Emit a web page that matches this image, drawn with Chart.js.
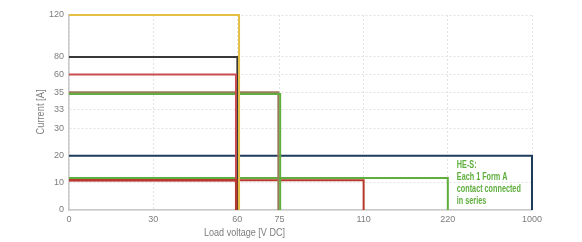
<!DOCTYPE html>
<html>
<head>
<meta charset="utf-8">
<script src="https://cdn.jsdelivr.net/npm/chart.js@4/dist/chart.umd.min.js"></script>
<style>
  html, body { margin: 0; padding: 0; background: #ffffff; }
  #wrap { width: 582px; height: 242px; }
</style>
</head>
<body>
<div id="wrap"><canvas id="c" width="582" height="242"></canvas></div>
<script>
// ---- Tick labels (axes are non-uniform: each tick sits on its own slot) ----
const xTickValues = [0, 30, 60, 75, 110, 220, 1000];
const xTickSlots  = [0, 1, 2, 2.5, 3.5, 4.5, 5.5];
const yTickValues = [0, 10, 20, 30, 33, 35, 60, 80, 120];
const yTickSlots  = [0, 1, 2, 3, 3.7, 4.35, 5, 5.65, 7.2];

// ---- Series: each is a rectangle (current rating up to a load voltage) ----
const seriesNames     = ['yellow', 'black', 'lightRed', 'brown', 'green35', 'navy', 'green12', 'darkRed110', 'darkRed60'];
const currentRatings  = [120, 80, 60, 35, 34.8, 20, 11.8, 11, 11];
const voltageLimits   = [60.6, 60, 59.5, 74.6, 75.3, 1000, 220, 110, 59.6];

// styles
const seriesColors = ['#e6bf45', '#383838', '#c94c50', '#9c7b5d', '#5fae3e', '#1d3b5b', '#5fae3e', '#b5392b', '#b83a2e'];
const seriesOrder  = [1, 3, 2, 5, 4, 9, 8, 7, 0];

const annotationLines = ['HE-S:', 'Each 1 Form A', 'contact connected', 'in series'];
const xTitle = 'Load voltage [V DC]';
const yTitle = 'Current [A]';

function toSlot(v, vals, slots) {
  for (let i = 0; i < vals.length - 1; i++) {
    if (v <= vals[i + 1]) {
      const t = (v - vals[i]) / (vals[i + 1] - vals[i]);
      return slots[i] + t * (slots[i + 1] - slots[i]);
    }
  }
  const n = vals.length - 1;
  return slots[n] + (v - vals[n]) / (vals[n] - vals[n - 1]) * (slots[n] - slots[n - 1]);
}
const xs = v => toSlot(v, xTickValues, xTickSlots);
const ys = v => toSlot(v, yTickValues, yTickSlots);

const datasets = seriesNames.map((name, i) => ({
  label: name,
  data: [
    { x: xs(0), y: ys(currentRatings[i]) },
    { x: xs(voltageLimits[i]), y: ys(currentRatings[i]) },
    { x: xs(voltageLimits[i]), y: ys(0) }
  ],
  borderColor: seriesColors[i],
  borderWidth: name === 'darkRed60' ? 2.5 : 2,
  pointRadius: 0,
  fill: false,
  tension: 0,
  clip: false,
  order: seriesOrder[i],
  borderJoinStyle: 'miter',
  borderCapStyle: 'butt'
}));

const TEXT_GRAY = '#7d7d7d';
const FONT = '"Liberation Sans Narrow", "Liberation Sans", Arial, sans-serif';

// draw text squeezed horizontally to a target width (condensed look)
function squeezed(ctx, text, x, y, targetW) {
  const w = ctx.measureText(text).width;
  const k = Math.min(1, targetW / w);
  ctx.save();
  ctx.translate(x, y);
  ctx.scale(k, 1);
  ctx.fillText(text, 0, 0);
  ctx.restore();
}

const extraText = {
  id: 'extraText',
  afterDraw(chart) {
    const { ctx, scales } = chart;
    ctx.save();
    ctx.fillStyle = TEXT_GRAY;
    ctx.font = '11px ' + FONT;
    ctx.textAlign = 'center';
    ctx.textBaseline = 'middle';
    squeezed(ctx, xTitle, 244.5, 233, 81);
    ctx.save();
    ctx.translate(41, 112);
    ctx.rotate(-Math.PI / 2);
    squeezed(ctx, yTitle, 0, 0, 45);
    ctx.restore();

    // annotation
    const x0 = scales.x.getPixelForValue(xs(220)) + 9;
    ctx.fillStyle = '#5fae3e';
    ctx.font = 'bold 11.5px ' + FONT;
    ctx.textAlign = 'left';
    const k = 64 / ctx.measureText('contact connected').width;
    annotationLines.forEach((line, i) => {
      ctx.save();
      ctx.translate(x0, 164.5 + i * 12);
      ctx.scale(k, 1);
      ctx.fillText(line, 0, 0);
      ctx.restore();
    });
    ctx.restore();
  }
};

new Chart(document.getElementById('c'), {
  type: 'line',
  data: { datasets },
  options: {
    responsive: false,
    animation: false,
    layout: { padding: { top: 15, right: 50, left: 0, bottom: 0 } },
    plugins: { legend: { display: false }, tooltip: { enabled: false }, title: { display: false } },
    scales: {
      x: {
        type: 'linear',
        min: 0,
        max: xTickSlots[xTickSlots.length - 1],
        afterBuildTicks: s => { s.ticks = xTickSlots.map(v => ({ value: v })); },
        afterFit: s => { s.height = 32; },
        ticks: {
          autoSkip: false,
          maxRotation: 0,
          padding: 4,
          color: TEXT_GRAY,
          font: { family: FONT, size: 9 },
          callback: v => { const i = xTickSlots.indexOf(v); return i >= 0 ? String(xTickValues[i]) : ''; }
        },
        grid: { color: '#e2e2e2', lineWidth: 1, drawTicks: false },
        border: { display: true, color: '#c9c9c9', width: 1.5, dash: [2, 2] }
      },
      y: {
        type: 'linear',
        min: 0,
        max: yTickSlots[yTickSlots.length - 1],
        afterBuildTicks: s => { s.ticks = yTickSlots.map(v => ({ value: v })); },
        afterFit: s => { s.width = 69; },
        ticks: {
          autoSkip: false,
          padding: 5,
          color: TEXT_GRAY,
          font: { family: FONT, size: 9 },
          callback: v => { const i = yTickSlots.indexOf(v); return i >= 0 ? String(yTickValues[i]) : ''; }
        },
        grid: { color: '#e2e2e2', lineWidth: 1, drawTicks: false },
        border: { display: true, color: '#c9c9c9', width: 1.5, dash: [2, 2] }
      }
    }
  },
  plugins: [extraText]
});
</script>
</body>
</html>
